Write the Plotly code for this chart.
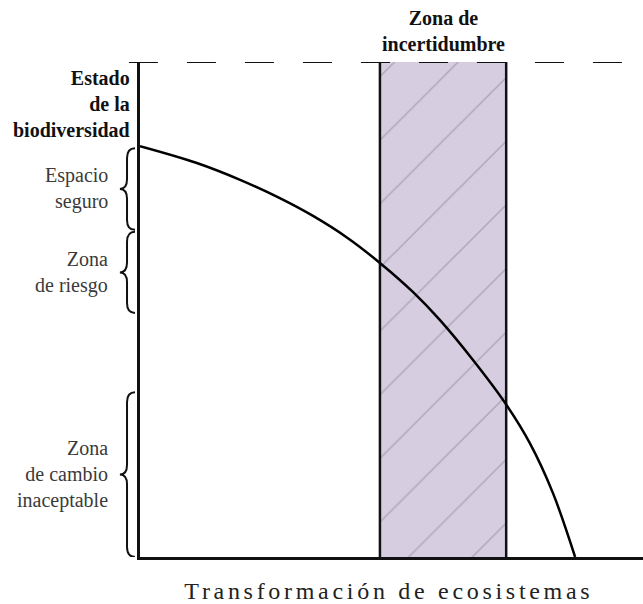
import plotly.graph_objects as go

# ---- data ----
curve_x = [0, 11.3, 19.9, 27.8, 34.4, 41.2, 47.7, 54.3, 59.6, 66.2, 72.6, 77.5, 82.1, 86.5]
curve_y = [83.0, 79.6, 76.2, 72.5, 68.9, 64.5, 59.4, 53.5, 47.9, 39.8, 31.1, 23.0, 12.9, 0]

zone_start = 47.7
zone_end = 72.8
zone_top = 100
threshold_y = 100

brace_labels = ["Espacio<br>seguro", "Zona<br>de riesgo", "Zona<br>de cambio<br>inaceptable"]
brace_top = [82.6, 65.7, 33.3]
brace_bottom = [66.1, 49.3, 0.0]

y_title = "Estado<br>de la<br>biodiversidad"
x_title = "Transformación de ecosistemas"
zone_title = "Zona de<br>incertidumbre"

FONT = "Liberation Serif"

fig = go.Figure()

# uncertainty zone (bar with hatch pattern)
fig.add_trace(go.Bar(
    x=[(zone_start + zone_end) / 2], y=[zone_top], base=0,
    width=[zone_end - zone_start],
    marker=dict(color="#d6cde0", line=dict(width=0),
                pattern=dict(shape="/", size=45, solidity=0.035,
                             fgcolor="#8a8294", bgcolor="#d6cde0")),
    hoverinfo="skip", showlegend=False))

# zone edges
for xe in (zone_start, zone_end):
    fig.add_trace(go.Scatter(x=[xe, xe], y=[0, zone_top], mode="lines",
                             line=dict(color="#111111", width=2.5),
                             hoverinfo="skip", showlegend=False))

# curve
fig.add_trace(go.Scatter(x=curve_x, y=curve_y, mode="lines",
                         line=dict(color="#000000", width=2.5, shape="spline", smoothing=1.0),
                         hoverinfo="skip", showlegend=False))

shapes = []
# dashed threshold line
shapes.append(dict(type="line", xref="paper", yref="y", x0=-0.022, x1=1.0,
                   y0=threshold_y, y1=threshold_y,
                   line=dict(color="#111111", width=2, dash="29px,29px")))

# braces
xe, xs, xt = -0.0099, -0.0258, -0.040
d = 2.0
for yt, yb in zip(brace_top, brace_bottom):
    ym = (yt + yb) / 2
    path = (f"M {xe},{yt} Q {xs},{yt} {xs},{yt - d} L {xs},{ym + d} "
            f"Q {xs},{ym} {xt},{ym} Q {xs},{ym} {xs},{ym - d} "
            f"L {xs},{yb + d} Q {xs},{yb} {xe},{yb}")
    shapes.append(dict(type="path", xref="paper", yref="y", path=path,
                       line=dict(color="#111111", width=2)))

annotations = []
for lab, yt, yb in zip(brace_labels, brace_top, brace_bottom):
    annotations.append(dict(text=lab, xref="paper", yref="y", x=-0.0596, y=(yt + yb) / 2,
                            xanchor="right", yanchor="middle", align="right", showarrow=False,
                            font=dict(family=FONT, size=20, color="#3a3a3a")))

annotations.append(dict(text=f"<b>{y_title}</b>", xref="paper", yref="y", x=-0.0159, y=91.5,
                        xanchor="right", yanchor="middle", align="right", showarrow=False,
                        font=dict(family=FONT, size=20, color="#111111")))
annotations.append(dict(text=f"<b>{zone_title}</b>", xref="x", yref="paper",
                        x=(zone_start + zone_end) / 2, y=1.063,
                        xanchor="center", yanchor="middle", align="center", showarrow=False,
                        font=dict(family=FONT, size=20, color="#111111")))
annotations.append(dict(text=x_title, xref="paper", yref="paper", x=0.495, y=-0.068,
                        xanchor="center", yanchor="middle", showarrow=False,
                        font=dict(family=FONT, size=24, color="#222222")))

fig.update_layout(
    width=643, height=604,
    margin=dict(l=140, r=0, t=62, b=47),
    paper_bgcolor="white", plot_bgcolor="white",
    shapes=shapes, annotations=annotations,
    xaxis=dict(range=[0, 100], showline=True, linecolor="#111111", linewidth=2.5,
               showgrid=False, zeroline=False, showticklabels=False, ticks=""),
    yaxis=dict(range=[0, 100], showline=True, linecolor="#111111", linewidth=2.5,
               showgrid=False, zeroline=False, showticklabels=False, ticks=""),
    barmode="overlay",
)

post = """
document.body.style.margin='0';
document.body.style.padding='0';
document.body.style.overflow='hidden';
document.querySelectorAll('text.annotation-text').forEach(function(t){
  if (t.textContent === 'Transformación de ecosistemas') {
    t.style.letterSpacing = '3.7px';
  }
});
"""

fig.write_html("out.html", post_script=post, config={"displayModeBar": False})
